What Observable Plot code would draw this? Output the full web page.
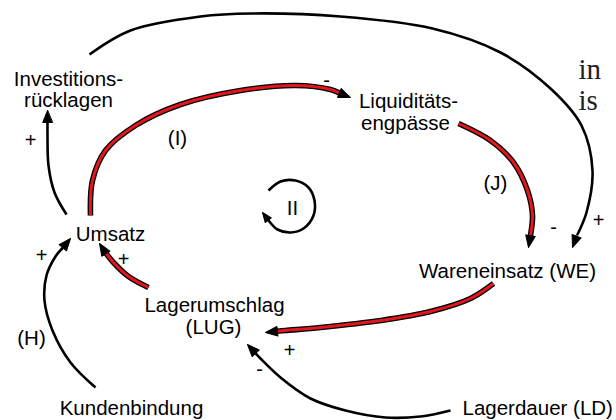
<!DOCTYPE html>
<html><head><meta charset="utf-8">
<script src="https://cdn.jsdelivr.net/npm/d3@7"></script>
<script src="https://cdn.jsdelivr.net/npm/@observablehq/plot@0.6"></script>
<style>body{margin:0;background:#fff}#chart svg{display:block}</style>
</head><body><div id="chart"></div>
<script>
// Node labels (one entry per text line): text, x (centre), y (line middle)
const nodeText = ["Investitions-", "rücklagen", "Liquiditäts-", "engpässe", "Umsatz", "Wareneinsatz (WE)", "Lagerumschlag", "(LUG)", "Kundenbindung"];
const nodeX    = [68, 68, 408, 405, 110, 507, 214, 213, 131];
const nodeY    = [79, 100, 101, 123, 234, 271, 305, 327, 408];
// left-anchored label
const leftText = ["Lagerdauer (LD)"];
const leftX = [462];
const leftY = [408];
// loop names and polarity signs
const tagText = ["(H)", "(I)", "(J)", "II"];
const tagX = [31, 177, 495, 292];
const tagY = [338, 138, 183, 208];
const signText = ["-", "+", "-", "+", "+", "+", "+", "-"];
const signX = [326, 30, 553, 598, 41, 123, 289, 259];
const signY = [80, 140, 227, 220, 255, 259, 350, 369];
// surrounding document text fragments (serif), cut by the picture edge
const docText = ["aten", "in", "is", "a"];
const docX = [7, 578, 578, 582];
const docY = [-10, 69, 100, -10];

// Link paths (waypoints, last point = arrow tip)
const pathUmsatzInvest = [[66,214],[54,192],[48,165],[47,135],[47,110]];
const pathInvestWE = [[89,54],[130,30],[200,16],[251,13],[340,16],[432,28],[500,52],[550,88],[581,125],[592,170],[586,212],[576,236],[572,247]];
const pathUmsatzLiq = [[90,215],[92,180],[105,150],[135,125],[180,104],[240,90],[295,85],[330,89],[350,97]];
const pathLiqWE = [[458,123],[490,140],[513,162],[527,190],[532,215],[530,235],[528,247]];
const pathWELug = [[493,283],[470,298],[430,311],[380,320],[320,327],[285,330],[265,332]];
const pathLugUmsatz = [[148,287],[128,276],[113,262],[104,251],[99,243]];
const pathKundeUmsatz = [[95,387],[70,362],[52,330],[44,300],[46,275],[55,256],[70,238]];
const pathLDLug = [[450,410],[420,416],[385,417],[345,410],[310,398],[280,377],[260,358],[247,344]];
const pathLoopII = [[268,190],[280,181],[295,180],[308,187],[314,200],[313,215],[303,228],[290,232],[277,229],[268,220],[262,212]];

const links = [
  {id: "Umsatz→Investitionsrücklagen", loop: false, pts: pathUmsatzInvest},
  {id: "Investitionsrücklagen→Wareneinsatz", loop: false, pts: pathInvestWE},
  {id: "Umsatz→Liquiditätsengpässe", loop: true, pts: pathUmsatzLiq},
  {id: "Liquiditätsengpässe→Wareneinsatz", loop: true, pts: pathLiqWE},
  {id: "Wareneinsatz→Lagerumschlag", loop: true, pts: pathWELug},
  {id: "Lagerumschlag→Umsatz", loop: true, pts: pathLugUmsatz},
  {id: "Kundenbindung→Umsatz", loop: false, pts: pathKundeUmsatz},
  {id: "Lagerdauer→Lagerumschlag", loop: false, pts: pathLDLug},
  {id: "Schleife II", loop: false, pts: pathLoopII, small: true}
];

const HEAD = 15;
const rows = [], heads = [];
for (const l of links) {
  const p = l.pts, n = p.length;
  const [tx, ty] = p[n - 1], [px, py] = p[n - 2];
  const d = Math.hypot(tx - px, ty - py), ux = (tx - px) / d, uy = (ty - py) / d;
  const len = l.small ? 12 : HEAD;
  p.forEach(([x, y], i) => {
    if (i < n - 1) rows.push({id: l.id, loop: l.loop, x, y});
  });
  rows.push({id: l.id, loop: l.loop, x: tx - ux * (len - 3), y: ty - uy * (len - 3)});
  heads.push({x: tx, y: ty, len, rot: Math.atan2(ux, -uy) * 180 / Math.PI});
}

const triangle = {
  draw(context, l, r) {
    const w = l * 0.4;
    context.moveTo(0, -l);
    context.lineTo(-w, 0);
    context.lineTo(w, 0);
    context.closePath();
  }
};

const tbl = (t, x, y) => t.map((s, i) => ({s, x: x[i], y: y[i]}));
const font = "Liberation Sans, Arial, Helvetica, sans-serif";

const chart = Plot.plot({
  width: 616, height: 420, margin: 0,
  x: {domain: [0, 616], range: [0, 616], axis: null},
  y: {domain: [0, 420], range: [0, 420], axis: null},
  style: {fontFamily: font, background: "white"},
  marks: [
    Plot.line(rows.filter(d => !d.loop), {x: "x", y: "y", z: "id", curve: "catmull-rom", stroke: "black", strokeWidth: 2.6, strokeLinecap: "butt"}),
    Plot.line(rows.filter(d => d.loop), {x: "x", y: "y", z: "id", curve: "catmull-rom", stroke: "black", strokeWidth: 5.6, strokeLinecap: "butt"}),
    Plot.line(rows.filter(d => d.loop), {x: "x", y: "y", z: "id", curve: "catmull-rom", stroke: "#e3161d", strokeWidth: 3, strokeLinecap: "butt"}),
    Plot.vector(heads, {x: "x", y: "y", rotate: "rot", length: "len", anchor: "end", shape: triangle, fill: "black", stroke: "black", strokeWidth: 1}),
    Plot.text(tbl(nodeText, nodeX, nodeY), {x: "x", y: "y", text: "s", fontSize: 20.5, fill: "black", textAnchor: "middle"}),
    Plot.text(tbl(leftText, leftX, leftY), {x: "x", y: "y", text: "s", fontSize: 20.5, fill: "black", textAnchor: "start"}),
    Plot.text(tbl(tagText, tagX, tagY), {x: "x", y: "y", text: "s", fontSize: 20.5, fill: "black", textAnchor: "middle"}),
    Plot.text(tbl(signText, signX, signY), {x: "x", y: "y", text: "s", fontSize: 20, fill: "black", textAnchor: "middle"}),
    Plot.text(tbl(docText, docX, docY), {x: "x", y: "y", text: "s", fontSize: 29, fill: "#222", textAnchor: "start", fontFamily: "Liberation Serif, Times New Roman, serif"})
  ]
});
chart.setAttribute("font-family", font);
document.getElementById("chart").appendChild(chart);
</script>
</body></html>
